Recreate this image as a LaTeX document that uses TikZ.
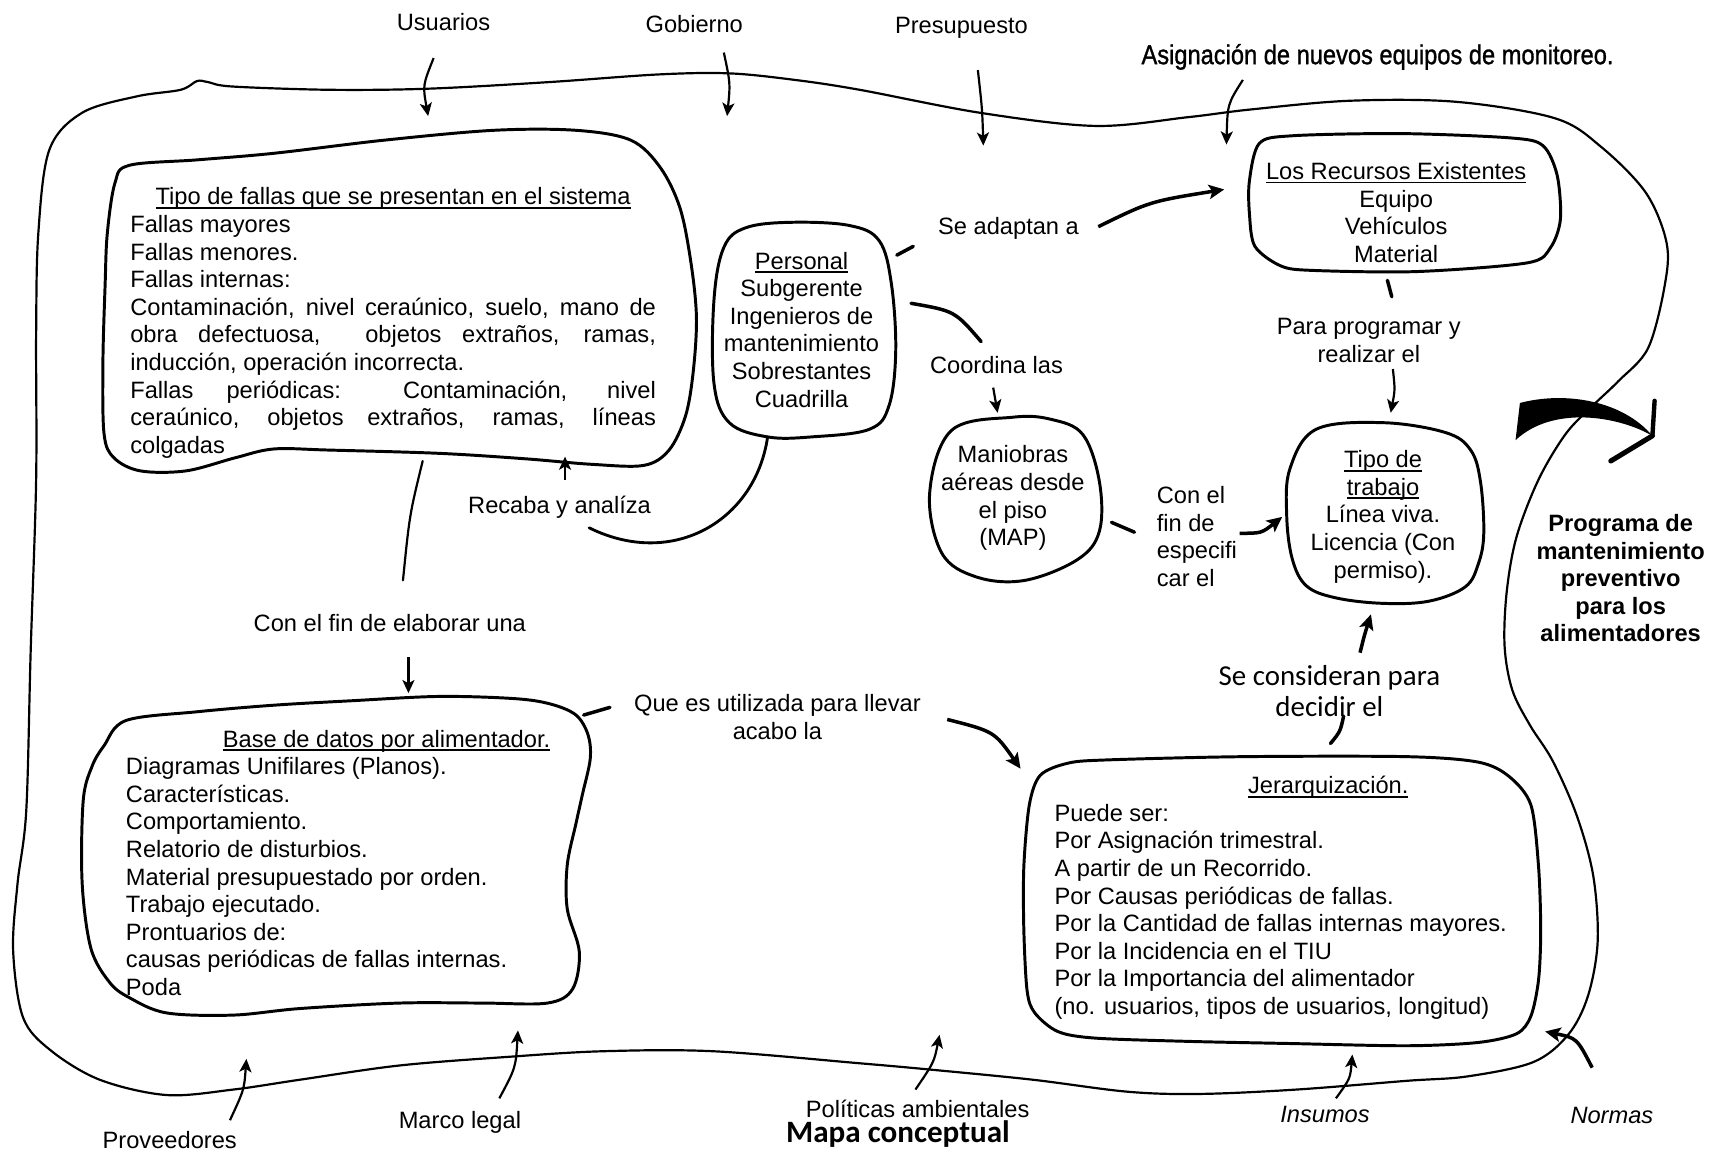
\documentclass[tikz,border=0pt]{standalone}
\usepackage{fontspec}
\usepackage{graphicx}
\setmainfont{Liberation Sans}
\newfontfamily\calib{Carlito}
\newfontfamily\heavyfont[FakeBold=1.2]{Liberation Sans}
\usetikzlibrary{arrows.meta}
\newcommand\myul[1]{\setbox0=\hbox{#1}\rlap{\rule[-1.7pt]{\wd0}{0.75pt}}\box0}
\begin{document}
\begin{tikzpicture}[x=0.5pt,y=-0.5pt,
  txt/.style={font={\fontsize{10.8pt}{12.6pt}\selectfont}, inner sep=0pt, align=center},
  lft/.style={txt, align=left},
  boldtxt/.style={font={\bfseries\fontsize{10.8pt}{12.5pt}\selectfont}, inner sep=0pt, align=center},
  bigcal/.style={font={\calib\fontsize{13.2pt}{14.3pt}\selectfont}, inner sep=0pt, align=center},
  capt/.style={font={\calib\bfseries\fontsize{14.2pt}{16pt}\selectfont}, inner sep=0pt},
  ital/.style={font={\itshape\fontsize{10.8pt}{12.6pt}\selectfont}, inner sep=0pt},
  blob/.style={line width=1.35pt, line join=round},
  outerline/.style={line width=1.0pt, line join=round},
  arr/.style={line width=1.0pt, -{Stealth[length=6pt,width=5.5pt,inset=1.5pt]}},
  thickarr/.style={line width=1.6pt, -{Stealth[length=7pt,width=6.5pt,inset=1.5pt]}},
  hstroke/.style={line width=1.6pt, line cap=round},
  lstroke/.style={line width=1.0pt, line cap=round}
]
\useasboundingbox (0,0) rectangle (1568,1053);
\fill[white] (0,0) rectangle (1568,1053);

% ---------- outer boundary ----------
\draw[outerline] plot[smooth cycle, tension=0.55] coordinates {
 (190,75) (212,79) (301,82) (391,81) (501,75) (601,68) (666,67) (726,73) (785,82)
 (895,103) (1000,115) (1085,107) (1142,100) (1233,92) (1330,93) (1420,108) (1462,134)
 (1503,176) (1522,222) (1520,262) (1505,318) (1478,348) (1455,370) (1430,396) (1405,438)
 (1385,490) (1376,540) (1374,590) (1381,630) (1397,662) (1418,695) (1440,745) (1455,800)
 (1459,860) (1450,910) (1432,945) (1400,970) (1340,983) (1285,987) (1184,995) (1096,999)
 (1030,997) (943,986) (852,977) (785,971) (651,960) (551,960) (466,965) (365,973)
 (274,986) (213,995) (152,1000) (91,986) (46,959) (21,929) (12,868) (16,807) (24,740)
 (28,595) (33,438) (33,304) (35,213) (45,137) (75,103) (125,88) (165,82) (180,74)};

% ---------- boxes ----------
\draw[blob] plot[smooth cycle, tension=0.55] coordinates {
 (105,167) (118,151) (180,146) (250,140) (351,128) (451,119) (526,119) (576,128) (603,153)
 (621,190) (631,240) (636,290) (633,340) (626,380) (611,411) (588,425) (540,424) (480,419)
 (401,414) (300,411) (250,410) (215,418) (170,430) (128,430) (104,418) (95,396) (94,330)
 (96,260) (98,213)};

\draw[blob] plot[smooth cycle, tension=0.55] coordinates {
 (95,681) (115,658) (180,650) (250,644) (320,640) (401,636) (470,638) (503,643) (526,653)
 (537,671) (539,693) (532,725) (526,752) (518,790) (518,830) (529,869) (523,903) (500,916)
 (440,916) (365,916) (274,921) (213,927) (152,925) (118,911) (100,897) (83,866) (75,806)
 (76,731) (84,700)};

\draw[blob] plot[smooth cycle, tension=0.6] coordinates {
 (661,226) (681,208) (723,203) (776,206) (803,220) (814,259) (818,320) (812,370) (794,392)
 (741,399) (701,399) (666,386) (652,350) (652,274)};

\draw[blob] plot[smooth cycle, tension=0.6] coordinates {
 (869,393) (925,381) (960,383) (989,397) (1004,440) (1004,485) (984,511) (936,530)
 (892,527) (860,505) (849,450)};

\draw[blob] plot[smooth cycle, tension=0.5] coordinates {
 (1141,165) (1150,131) (1180,124) (1280,122) (1380,126) (1409,133) (1422,160) (1425,200)
 (1416,226) (1395,240) (1294,248) (1200,247) (1170,243) (1146,225) (1141,195)};

\draw[blob] plot[smooth cycle, tension=0.6] coordinates {
 (1202,392) (1263,386) (1320,395) (1343,411) (1352,440) (1355,487) (1350,515) (1338,536)
 (1305,549) (1263,551) (1220,546) (1193,535) (1180,510) (1175,470) (1178,428)};

\draw[blob] plot[smooth cycle, tension=0.5] coordinates {
 (950,708) (975,697) (1010,694) (1135,691) (1285,691) (1350,696) (1378,709) (1398,735)
 (1405,791) (1407,850) (1405,895) (1398,928) (1385,944) (1350,952) (1285,955) (1180,953)
 (1085,951) (1000,948) (966,942) (945,925) (938,905) (935,850) (935,791) (940,735)};

% ---------- texts ----------
\node[lft] (fallas) at (359,295) {%
\makebox[240pt]{\myul{Tipo de fallas que se presentan en el sistema}}\\
Fallas mayores\\
Fallas menores.\\
Fallas internas:\\
\makebox[240pt][s]{Contaminación, nivel ceraúnico, suelo, mano de}\\
\makebox[240pt][s]{obra defectuosa, \ objetos extraños, ramas,}\\
inducción, operación incorrecta.\\
\makebox[240pt][s]{Fallas periódicas: Contaminación, nivel}\\
\makebox[240pt][s]{ceraúnico, objetos extraños, ramas, líneas}\\
colgadas};

\node[lft] (base) at (353,788) {%
\makebox[238pt]{\myul{Base de datos por alimentador.}}\\
Diagramas Unifilares (Planos).\\
Características.\\
Comportamiento.\\
Relatorio de disturbios.\\
Material presupuestado por orden.\\
Trabajo ejecutado.\\
Prontuarios de:\\
causas periódicas de fallas internas.\\
Poda};

\node[lft] (jer) at (1213,820) {%
\makebox[250pt]{\myul{Jerarquización.}}\\
Puede ser:\\
Por Asignación trimestral.\\
A partir de un Recorrido.\\
Por Causas periódicas de fallas.\\
Por la Cantidad de fallas internas mayores.\\
Por la Incidencia en el TIU\\
Por la Importancia del alimentador\\
(no. usuarios, tipos de usuarios, longitud)};

\node[txt] (pers) at (732,301) {\myul{Personal}\\Subgerente\\Ingenieros de\\mantenimiento\\Sobrestantes\\Cuadrilla};
\node[txt] (recur) at (1275,194) {\myul{Los Recursos Existentes}\\Equipo\\Vehículos\\Material};
\node[txt] (mani) at (925,455) {Maniobras\\aéreas desde\\el piso\\(MAP)};
\node[txt] (tipo) at (1263,472) {\myul{Tipo de}\\\myul{trabajo}\\Línea viva.\\Licencia (Con\\permiso).};
\node[lft, anchor=west] (conel) at (1056,490) {Con el\\fin de\\especifi\\car el};
\node[txt] (para) at (1250,311) {Para programar y\\realizar el};
\node[txt] (quees) at (710,655) {Que es utilizada para llevar\\acabo la};
\node[bigcal] (secons) at (1214,631) {Se consideran para\\decidir el};
\node[boldtxt] (prog) at (1480,528) {Programa de\\mantenimiento\\preventivo\\para los\\alimentadores};
\node[txt] (seadap) at (921,209) {Se adaptan a};
\node[txt] (coord) at (910,333) {Coordina las};
\node[txt] (recaba) at (511,463) {Recaba y analíza};
\node[txt] (conelab) at (356,569) {Con el fin de elaborar una};
\node[txt] (usu) at (405,20) {Usuarios};
\node[txt] (gob) at (634,22) {Gobierno};
\node[txt] (pres) at (878,25) {Presupuesto};
\node[txt, font={\heavyfont\fontsize{10.8pt}{12.6pt}\selectfont}] (asig) at (1258,52) {\scalebox{1}[1.15]{Asignación de nuevos equipos de monitoreo.}};
\node[txt] (prov) at (155,1041) {Proveedores};
\node[txt] (marco) at (420,1025) {Marco legal};
\node[txt] (polit) at (838,1013) {Políticas ambientales};
\node[capt] (mapa) at (820,1036) {Mapa conceptual};
\node[ital] (insu) at (1210,1018) {Insumos};
\node[ital] (norm) at (1472,1019) {Normas};

% ---------- connector end points ----------
\coordinate (uA) at (396,53);   \coordinate (uB) at (391,106);
\coordinate (gA) at (661,48);   \coordinate (gB) at (664,106);
\coordinate (pA) at (893,64);   \coordinate (pB) at (898,133);
\coordinate (aA) at (1135,73);  \coordinate (aB) at (1120,132);
\coordinate (sa1) at (834,225); \coordinate (sa2) at (819,233);
\coordinate (sa3) at (1003,207); \coordinate (sa4) at (1118,173);
\coordinate (co1) at (832,277); \coordinate (co2) at (896,312);
\coordinate (co3) at (907,354); \coordinate (co4) at (911,377);
\coordinate (re1) at (1267,256); \coordinate (re2) at (1271,271);
\coordinate (re3) at (1272,337); \coordinate (re4) at (1270,377);
\coordinate (ma1) at (1015,477); \coordinate (ma2) at (1036,486);
\coordinate (ma3) at (1132,487); \coordinate (ma4) at (1171,472);
\coordinate (rc1) at (701,399); \coordinate (rc2) at (538,482);
\coordinate (rc3) at (516,438); \coordinate (rc4) at (516,417);
\coordinate (ce1) at (386,421); \coordinate (ce2) at (368,530);
\coordinate (ce3) at (373,600); \coordinate (ce4) at (373,633);
\coordinate (qu1) at (533,653); \coordinate (qu2) at (557,646);
\coordinate (qu3) at (865,657); \coordinate (qu4) at (932,702);
\coordinate (sc1) at (1215,679); \coordinate (sc2) at (1227,654);
\coordinate (sc3) at (1242,596); \coordinate (sc4) at (1252,561);
\coordinate (pv1) at (210,1023); \coordinate (pv2) at (225,967);
\coordinate (ml1) at (456,1003); \coordinate (ml2) at (473,941);
\coordinate (po1) at (836,995);  \coordinate (po2) at (858,945);
\coordinate (in1) at (1220,1003); \coordinate (in2) at (1235,963);
\coordinate (no1) at (1454,975); \coordinate (no2) at (1411,942);

% ---------- connectors ----------
\draw[arr] (uA) .. controls (386,78) .. (uB);
\draw[arr] (gA) .. controls (667,76) .. (gB);
\draw[arr] (pA) .. controls (897,100) .. (pB);
\draw[arr] (aA) .. controls (1121,95) .. (aB);

\draw[hstroke] (sa1) -- (sa2);
\draw[thickarr] (sa3) .. controls (1050,184) .. (sa4);

\draw[hstroke] (co1) .. controls (872,284) .. (co2);
\draw[arr] (co3) -- (co4);

\draw[hstroke] (re1) -- (re2);
\draw[arr] (re3) .. controls (1274,356) .. (re4);

\draw[hstroke] (ma1) -- (ma2);
\draw[thickarr] (ma3) .. controls (1152,487) .. (ma4);

\draw[lstroke, line width=1.3pt] (rc1) .. controls (690,475) and (615,520) .. (rc2);
\draw[arr] (rc3) -- (rc4);

\draw[lstroke] (ce1) .. controls (374,470) .. (ce2);
\draw[arr] (ce3) -- (ce4);

\draw[hstroke] (qu1) -- (qu2);
\draw[thickarr] (qu3) .. controls (908,668) .. (qu4);

\draw[hstroke] (sc1) .. controls (1224,668) .. (sc2);
\draw[thickarr] (sc3) .. controls (1246,580) .. (sc4);

\draw[arr] (pv1) .. controls (223,995) .. (pv2);
\draw[arr] (ml1) .. controls (471,975) .. (ml2);
\draw[arr] (po1) .. controls (853,970) .. (po2);
\draw[arr] (in1) .. controls (1233,985) .. (in2);
\draw[thickarr] (no1) .. controls (1440,948) .. (no2);

% ---------- big black arrow ----------
\coordinate (bkL) at (1388,368);
\coordinate (bkT) at (1509,398);
\coordinate (bkB) at (1384,402);
\fill (bkL) .. controls (1430,357) and (1482,366) .. (bkT)
      .. controls (1478,380) and (1418,370) .. (bkB) -- cycle;
\coordinate (ah1) at (1511,366);
\coordinate (ah2) at (1471,421);
\draw[line width=2pt, line cap=round] (ah1) -- (bkT);
\draw[line width=2.3pt, line cap=round] (ah2) -- (bkT);
\end{tikzpicture}
\end{document}
